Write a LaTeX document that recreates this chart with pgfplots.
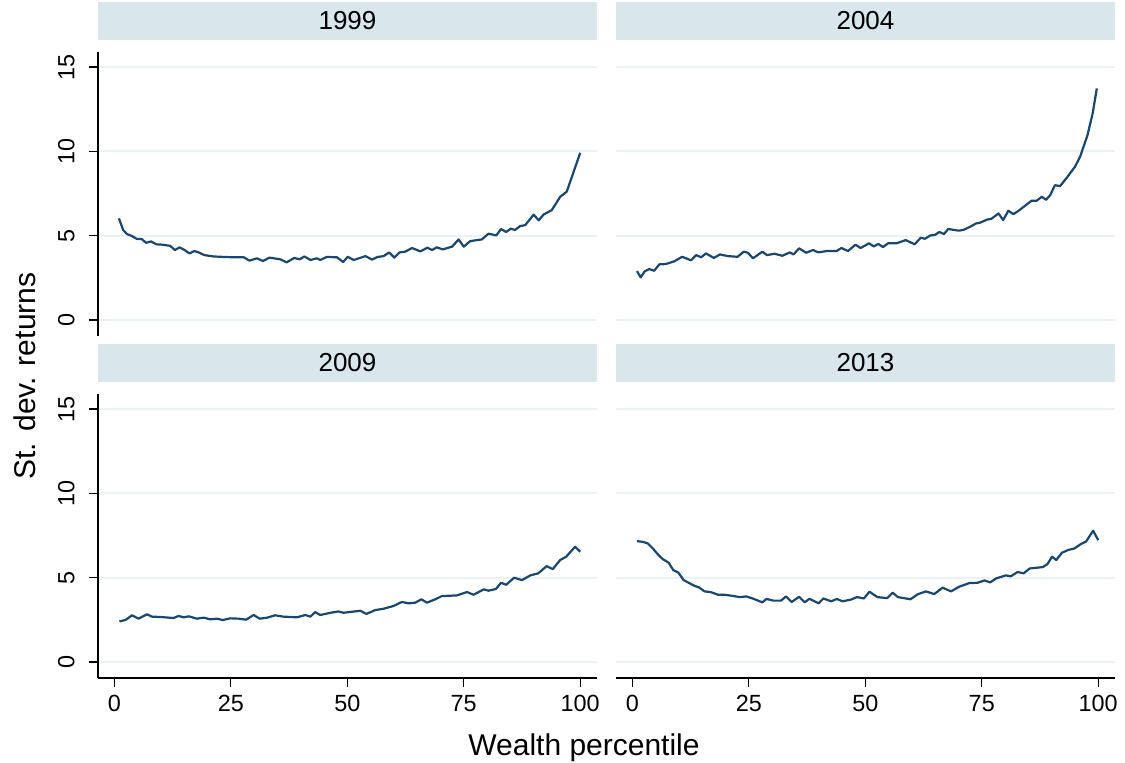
\documentclass[border=0pt]{standalone}
\usepackage{fontspec}
\setmainfont{Liberation Sans}
\usepackage{pgfplots}
\pgfplotsset{compat=1.18}

\definecolor{navyline}{HTML}{1A476F}
\definecolor{headc}{HTML}{D9E6EB}
\definecolor{gridc}{HTML}{EAF2F3}

\pgfplotsset{
  panel/.style={
    width=249.5pt, height=142pt, scale only axis,
    anchor=south west,
    xmin=-3.5, xmax=103.6, ymin=-0.95, ymax=15.9,
    xtick={0,25,50,75,100}, ytick={0,5,10,15},
    ymajorgrids, major grid style={draw=gridc, line width=1pt},
    axis x line*=bottom, axis y line*=left,
    axis line style={black, line width=0.7pt, -},
    tick style={black, line width=0.7pt},
    tick align=outside, major tick length=4.5pt,
    /pgf/number format/assume math mode=true,
    ticklabel style={font=\fontsize{11.7}{13}\selectfont, inner sep=0pt},
    yticklabel style={rotate=90, anchor=south},
    xticklabel style={anchor=north},
    yticklabel shift=7pt, xticklabel shift=4pt,
    title style={at={(0.5,1)}, anchor=south, fill=headc,
      minimum width=249.5pt, minimum height=19pt, inner sep=0pt,
      font=\fontsize{13}{15}\selectfont},
    cycle list={{navyline, mark=none}},
    every axis plot post/.append style={line width=1.1pt, line join=round},
  },
  noxaxis/.style={xtick=\empty, x axis line style={draw=none}},
  noyaxis/.style={yticklabels={}, ytick style={draw=none}, y axis line style={draw=none}},
}

\begin{document}
\begin{tikzpicture}
\path[use as bounding box] (0,0) rectangle (562.5pt,381pt);

% 1999
\begin{axis}[panel, noxaxis, title={1999}, at={(49pt,213pt)}]
\addplot coordinates {
(1,6.03) (1.9,5.34) (2.7,5.1) (3.8,4.98) (4.9,4.8) (5.9,4.8) (6.8,4.58) (7.9,4.66)
(9,4.49) (10.2,4.47) (12,4.4) (13,4.15) (14,4.31) (15.1,4.15) (16.1,3.95) (17.2,4.09)
(18.1,4.01) (19.3,3.85) (21.3,3.77) (23.5,3.74) (25.6,3.72) (27.8,3.72) (29,3.52)
(30.6,3.66) (31.9,3.5) (33.3,3.7) (35.6,3.6) (37,3.42) (38.6,3.68) (39.8,3.6) (40.8,3.77)
(42.1,3.56) (43.5,3.66) (44.2,3.56) (45.6,3.74) (47.8,3.72) (49.1,3.44) (50.1,3.75)
(51.4,3.56) (53.9,3.79) (55.3,3.58) (56.5,3.74) (57.8,3.79) (59,4.01) (60.1,3.7)
(61.2,4.01) (62.4,4.05) (63.9,4.27) (65.7,4.07) (67.2,4.29) (68.2,4.15) (69.2,4.31)
(70.5,4.19) (72.5,4.35) (73.9,4.78) (75,4.35) (76.4,4.68) (78.9,4.78) (80.3,5.12)
(82,5.02) (83,5.4) (84.1,5.22) (85.1,5.42) (86,5.34) (87.1,5.57) (88.2,5.63) (90,6.25)
(91.1,5.91) (92.1,6.25) (93.9,6.52) (95.7,7.31) (97.1,7.61) (100,9.92)
};
\end{axis}

% 2004
\begin{axis}[panel, noxaxis, noyaxis, title={2004}, at={(308pt,213pt)}]
\addplot coordinates {
(1,2.9) (1.8,2.53) (2.7,2.9) (3.7,3.02) (4.7,2.92) (5.8,3.3) (7.2,3.32) (9,3.48)
(10.7,3.75) (12.6,3.54) (13.7,3.85) (14.8,3.72) (15.8,3.95) (17.5,3.68) (18.8,3.89)
(20.5,3.79) (22.6,3.75) (23.9,4.05) (24.8,3.99) (25.9,3.66) (27.9,4.05) (28.9,3.85)
(30.5,3.93) (32.2,3.81) (33.8,4.01) (34.6,3.89) (35.8,4.25) (37.3,3.99) (38.8,4.15)
(39.9,4.01) (41.7,4.09) (43.8,4.09) (44.9,4.27) (46.3,4.09) (47.9,4.47) (49,4.27)
(50.8,4.55) (51.8,4.37) (52.8,4.51) (53.8,4.33) (54.9,4.55) (56.7,4.55) (58.7,4.74)
(60.6,4.49) (61.9,4.88) (62.8,4.82) (64,5.02) (64.9,5.04) (65.9,5.22) (66.9,5.1)
(67.8,5.4) (70,5.3) (71,5.34) (72.5,5.53) (73.8,5.73) (74.6,5.77) (76.1,5.95)
(77.1,6.01) (78.6,6.32) (79.6,5.93) (80.7,6.48) (81.8,6.28) (83.1,6.52) (84.3,6.78)
(85.7,7.08) (86.8,7.08) (87.9,7.31) (88.8,7.13) (89.7,7.41) (90.7,8.0) (91.8,7.94)
(93.3,8.46) (95,9.09) (96.1,9.68) (97.7,10.97) (98.8,12.25) (99.7,13.74)
};
\end{axis}

% 2009
\begin{axis}[panel, title={2009}, at={(49pt,42pt)}]
\addplot coordinates {
(1.1,2.41) (2.4,2.49) (3.8,2.77) (5.2,2.57) (7,2.83) (8.1,2.69) (9.9,2.67) (12.7,2.61)
(13.8,2.73) (14.9,2.65) (16,2.71) (17.7,2.57) (19.2,2.63) (20.6,2.53) (22,2.57)
(23.3,2.49) (24.9,2.59) (26.7,2.57) (28.3,2.51) (29.9,2.79) (31.2,2.57) (32.8,2.63)
(34.5,2.77) (36.3,2.69) (39.2,2.65) (41,2.79) (42.1,2.69) (43.1,2.96) (44.2,2.79)
(46.4,2.92) (48.1,3.0) (49.2,2.92) (52.8,3.04) (54.1,2.85) (56,3.08) (57.8,3.16)
(59.9,3.32) (61.7,3.56) (63.2,3.48) (64.6,3.52) (65.9,3.72) (67.1,3.52) (68.9,3.72)
(70.3,3.91) (73.5,3.95) (75.7,4.15) (77.1,3.99) (79.3,4.31) (80.3,4.23) (81.9,4.33)
(83,4.7) (84.1,4.58) (85.8,5.0) (87.5,4.86) (89.3,5.14) (91,5.26) (92.8,5.69)
(94.1,5.51) (95.7,6.05) (97,6.25) (98.9,6.84) (100,6.54)
};
\end{axis}

% 2013
\begin{axis}[panel, noyaxis, title={2013}, at={(308pt,42pt)}]
\addplot coordinates {
(1,7.17) (2.2,7.13) (3.3,7.04) (4.4,6.74) (5.5,6.38) (6.5,6.11) (7.8,5.89) (8.8,5.45)
(9.9,5.3) (11,4.86) (12.1,4.7) (13.4,4.51) (14.3,4.43) (15.5,4.19) (16.8,4.15)
(18.4,3.99) (19.8,3.99) (21.3,3.93) (23.1,3.85) (24.5,3.89) (26,3.75) (27.9,3.54)
(28.8,3.74) (30.3,3.64) (31.9,3.64) (33,3.89) (34.2,3.56) (35.8,3.87) (37,3.54)
(38,3.75) (40,3.48) (41,3.77) (42.7,3.6) (43.9,3.74) (45.1,3.6) (46.9,3.7) (48.2,3.85)
(49.7,3.77) (50.9,4.17) (52.6,3.85) (54.7,3.79) (55.9,4.11) (57,3.85) (59.7,3.72)
(61.2,4.01) (63,4.19) (64.8,4.03) (66.6,4.41) (68.4,4.19) (70.2,4.47) (72.3,4.68)
(74.1,4.7) (75.6,4.84) (76.8,4.72) (78.1,4.96) (80.2,5.14) (81.2,5.08) (82.7,5.34)
(84,5.26) (85.3,5.55) (88.1,5.63) (89.1,5.81) (90.1,6.25) (91,6.05) (92.2,6.48)
(93.5,6.64) (94.9,6.74) (96.3,7.0) (97.4,7.15) (98.9,7.79) (100,7.23)
};
\end{axis}

\node[rotate=90, anchor=base, font=\fontsize{15}{17}\selectfont] at (17.5pt,193pt) {St. dev. returns};
\node[anchor=base, font=\fontsize{15}{17}\selectfont] at (292pt,3.5pt) {Wealth percentile};
\end{tikzpicture}
\end{document}
